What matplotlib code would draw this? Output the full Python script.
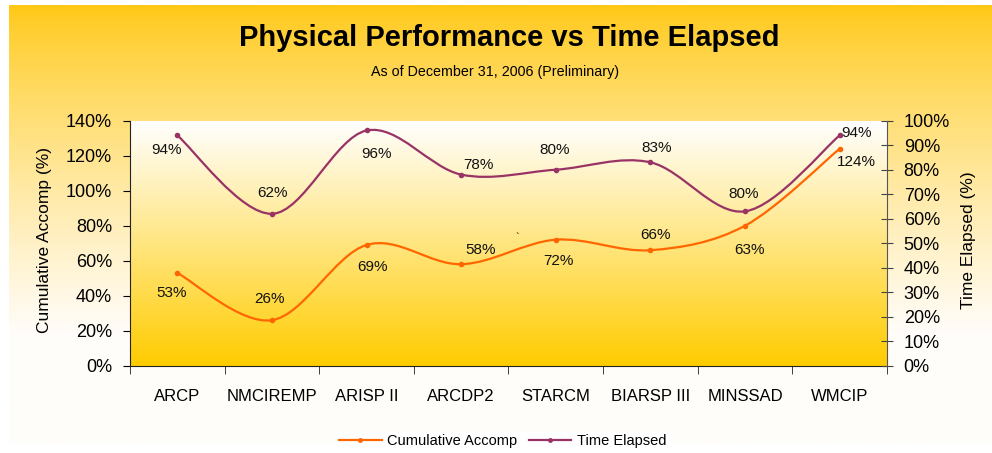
import numpy as np
import matplotlib.pyplot as plt
from matplotlib.path import Path
from matplotlib.patches import PathPatch
from matplotlib.lines import Line2D
from matplotlib.ticker import FixedLocator, PercentFormatter

plt.rcParams['font.family'] = ['Liberation Sans', 'DejaVu Sans']

# data
programs = ['ARCP', 'NMCIREMP', 'ARISP II', 'ARCDP2', 'STARCM', 'BIARSP III', 'MINSSAD', 'WMCIP']
accomp = [53, 26, 69, 58, 72, 66, 80, 124]
elapsed = [94, 62, 96, 78, 80, 83, 63, 94]
accomp_labels = ['53%', '26%', '69%', '58%', '72%', '66%', '63%', '124%']
elapsed_labels = ['94%', '62%', '96%', '78%', '80%', '83%', '80%', '94%']

# label offsets in pixels (dx, dy)
accomp_off = [(-6, -20), (-2, 21), (6, -22), (19, 14), (3, -21), (5, 15), (4, -24), (17, -13)]
elapsed_off = [(-11, -15), (1, 21), (10, -24), (17, 10), (-1, 20), (6, 14), (-1, 17), (17, 2)]

ORANGE = '#ff6600'
PURPLE = '#993366'


def smooth_path(x, y):
    # excel-like smoothed line: cubic bezier through the points
    pts = np.column_stack([x, y]).astype(float)
    n = len(pts)
    verts = [pts[0]]
    codes = [Path.MOVETO]
    for i in range(n - 1):
        p0 = pts[max(i - 1, 0)]
        p1 = pts[i]
        p2 = pts[i + 1]
        p3 = pts[min(i + 2, n - 1)]
        verts += [p1 + (p2 - p0) / 6, p2 - (p3 - p1) / 6, p2]
        codes += [Path.CURVE4] * 3
    return Path(verts, codes)


fig = plt.figure(figsize=(9.92, 4.53), dpi=100, facecolor='white')

# gradient background of the chart area
bg = fig.add_axes([9 / 992, 1 - 443 / 453, 983 / 992, 438 / 453], zorder=-5)
t = np.linspace(0, 1, 256)[:, None]
top = np.array([255, 200, 20]) / 255
bot = np.array([255, 253, 250]) / 255
w = np.clip(t / 0.75, 0, 1) ** 0.8
grad = top * (1 - w[..., None]) + bot * w[..., None]
bg.imshow(grad, aspect='auto', extent=[0, 1, 0, 1])
bg.axis('off')

ax = fig.add_axes([130 / 992, 1 - 365.7 / 453, 757 / 992, 245 / 453])
ax.patch.set_visible(False)
t2 = np.linspace(0, 1, 256)[:, None]
ptop = np.array([255, 255, 255]) / 255
pbot = np.array([255, 204, 0]) / 255
grad2 = ptop * (1 - t2[..., None]) + pbot * t2[..., None]
ax.imshow(grad2, aspect='auto', extent=[0, 1, 0, 1], transform=ax.transAxes, zorder=0)

x = np.arange(len(programs))
ax2 = ax.twinx()

ax.add_patch(PathPatch(smooth_path(x, accomp), fill=False, edgecolor=ORANGE, lw=1.6, zorder=3))
ax.plot(x, accomp, 'o', color=ORANGE, ms=3, zorder=4)
ax2.add_patch(PathPatch(smooth_path(x, elapsed), fill=False, edgecolor=PURPLE, lw=1.6, zorder=3))
ax2.plot(x, elapsed, 'o', color=PURPLE, ms=3, zorder=4)

for xi, v, lab, off in zip(x, accomp, accomp_labels, accomp_off):
    ax.annotate(lab, (xi, v), xytext=off, textcoords='offset pixels',
                ha='center', va='center', fontsize=11, color='#111111', zorder=5)
for xi, v, lab, off in zip(x, elapsed, elapsed_labels, elapsed_off):
    ax2.annotate(lab, (xi, v), xytext=off, textcoords='offset pixels',
                 ha='center', va='center', fontsize=11, color='#111111', zorder=5)

ax.set_xlim(-0.5, len(programs) - 0.5)
ax.set_ylim(0, 140)
ax2.set_ylim(0, 100)

ax.set_yticks(np.arange(0, 141, 20))
ax.yaxis.set_major_formatter(PercentFormatter(decimals=0))
ax2.set_yticks(np.arange(0, 101, 10))
ax2.yaxis.set_major_formatter(PercentFormatter(decimals=0))

ax.set_xticks(x)
ax.set_xticklabels(programs, fontsize=12)
ax.xaxis.set_minor_locator(FixedLocator(np.arange(-0.5, len(programs), 1)))
ax.tick_params(axis='x', which='major', length=0, pad=17)
ax.tick_params(axis='x', which='minor', length=6, direction='out', color='#222222')
ax.tick_params(axis='y', length=5, direction='out', labelsize=13, pad=8)
ax2.tick_params(axis='y', length=8, direction='inout', labelsize=13, pad=8, color='#444444')

for s in ['top', 'right']:
    ax.spines[s].set_visible(False)
for s in ['top', 'left', 'bottom']:
    ax2.spines[s].set_visible(False)
ax.spines['left'].set_color('#222222')
ax.spines['bottom'].set_color('#222222')
ax2.spines['right'].set_color('#555555')

fig.text(45 / 992, 1 - 240 / 453, 'Cumulative Accomp (%)', rotation=90,
         ha='center', va='center', fontsize=12.5)
fig.text(968 / 992, 1 - 240 / 453, 'Time Elapsed (%)', rotation=90,
         ha='center', va='center', fontsize=12.5)

fig.text(509 / 992, 1 - 38 / 453, 'Physical Performance vs Time Elapsed',
         ha='center', va='center', fontsize=21, fontweight='bold')
fig.text(495 / 992, 1 - 72 / 453, 'As of December 31, 2006 (Preliminary)',
         ha='center', va='center', fontsize=10.3)
fig.text(517 / 992, 1 - 238 / 453, '`', ha='center', va='center', fontsize=8)

handles = [Line2D([], [], color=ORANGE, lw=1.6, marker='o', ms=2.5),
           Line2D([], [], color=PURPLE, lw=1.6, marker='o', ms=2.5)]
fig.legend(handles, ['Cumulative Accomp', 'Time Elapsed'], loc='center',
           bbox_to_anchor=(503 / 992, 1 - 441 / 453), ncol=2, fontsize=10.5,
           frameon=True, facecolor='white', edgecolor='none', framealpha=1,
           fancybox=False, handlelength=2.9, handletextpad=0.4, columnspacing=0.8,
           borderpad=0.2)

fig.savefig('out.png', dpi=100, facecolor='white')
